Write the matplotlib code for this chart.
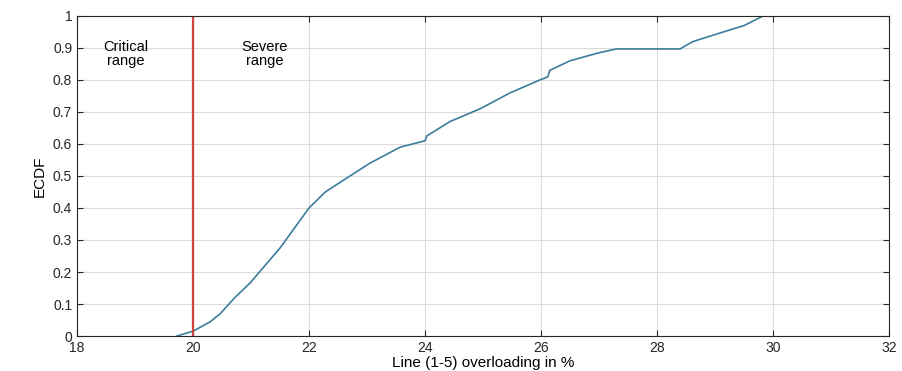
import numpy as np
import matplotlib.pyplot as plt

plt.rcParams['font.family'] = ['Liberation Sans', 'DejaVu Sans']

# ECDF curve
overload = [19.72, 20.0, 20.3, 20.47, 20.72, 20.98, 21.24, 21.5, 21.76, 22.0,
            22.28, 22.62, 23.05, 23.57, 24.0, 24.03, 24.43, 24.95, 25.47, 25.98,
            26.12, 26.15, 26.5, 27.0, 27.3, 28.4, 28.52, 28.62, 29.09, 29.5,
            29.83, 30.26]
ecdf = [0.0, 0.015, 0.045, 0.07, 0.12, 0.165, 0.22, 0.275, 0.34, 0.40,
        0.45, 0.49, 0.54, 0.59, 0.61, 0.625, 0.67, 0.71, 0.76, 0.80,
        0.81, 0.83, 0.86, 0.885, 0.897, 0.897, 0.91, 0.92, 0.947, 0.97,
        1.0, 1.0]
threshold = 20

fig = plt.figure(figsize=(9.02, 3.71), dpi=100)
ax = fig.add_axes([0.0854, 0.0943, 0.9002, 0.8627])

ax.plot(overload, ecdf, color='#3b7d9c', lw=1.2)
ax.axvline(threshold, color='#d0463f', lw=1.6)

ax.set_xlim(18, 32)
ax.set_ylim(0, 1)
ax.set_xticks(np.arange(18, 33, 2))
ax.set_yticks(np.arange(0, 1.01, 0.1))
ax.set_yticklabels(['0', '0.1', '0.2', '0.3', '0.4', '0.5', '0.6', '0.7', '0.8', '0.9', '1'])
ax.grid(True, color='#dcdcdc', lw=0.8)
ax.tick_params(direction='in', top=True, right=True, labelsize=10, colors='#262626', length=4)
for s in ax.spines.values():
    s.set_color('#262626')
    s.set_linewidth(0.8)

ax.text(18.84, 0.88, 'Critical\nrange', ha='center', va='center', fontsize=10.5, linespacing=1.0)
ax.text(21.24, 0.88, 'Severe\nrange', ha='center', va='center', fontsize=10.5, linespacing=1.0)

ax.set_xlabel('Line (1-5) overloading in %', fontsize=11, labelpad=1)
ax.set_ylabel('ECDF', fontsize=11)

fig.savefig('out.png', dpi=100)
